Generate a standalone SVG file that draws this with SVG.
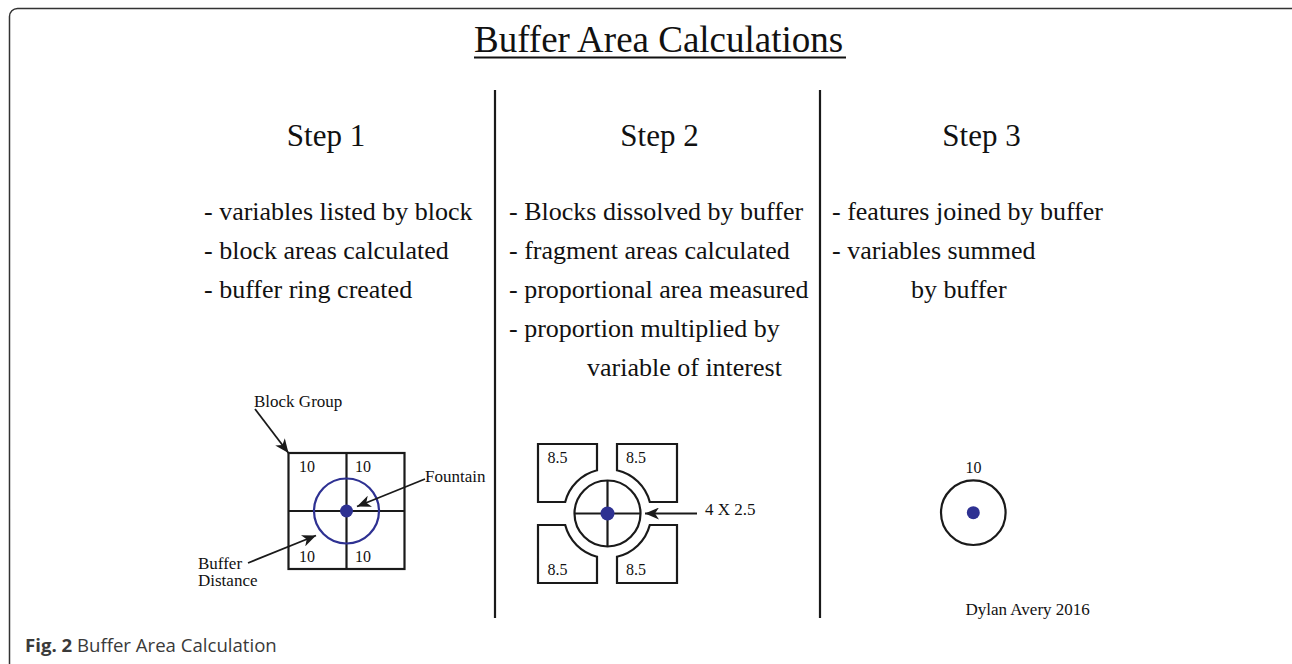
<svg xmlns="http://www.w3.org/2000/svg" width="1292" height="664" viewBox="0 0 1292 664">
  <style>
    .serif { font-family: "Liberation Serif", "Times New Roman", serif; fill: #111; }
    .title { font-size: 37px; }
    .head { font-size: 31px; text-anchor: middle; }
    .body { font-size: 26px; }
    .lbl { font-size: 17px; }
    .num { font-size: 16px; }
    .ink { fill: none; stroke: #1a1a1a; stroke-width: 2.2; }
    .ring { fill: none; stroke: #2e3192; stroke-width: 2.2; }
    .dot { fill: #2e3192; }
    .lead { fill: none; stroke: #1a1a1a; stroke-width: 1.8; }
    .rule { stroke: #1a1a1a; stroke-width: 2.2; }
    .caption { font-family: "Open Sans", "Noto Sans", sans-serif; font-size: 18.6px; fill: #3a3a3a; }
  </style>
  <defs>
    <marker id="arrow" markerUnits="userSpaceOnUse" markerWidth="16" markerHeight="12" refX="14" refY="6" orient="auto">
      <path d="M0,0 L14,6 L0,12 L4,6 Z" fill="#1a1a1a"/>
    </marker>
  </defs>

  <rect width="1292" height="664" fill="#fff"/>
  <!-- figure frame -->
  <rect x="9.5" y="8.5" width="1290" height="670" rx="8" fill="none" stroke="#333" stroke-width="1.5"/>

  <!-- title -->
  <g id="title">
    <text class="serif title" x="474" y="52">Buffer Area Calculations</text>
    <line x1="474" y1="57.5" x2="846" y2="57.5" stroke="#111" stroke-width="2"/>
  </g>

  <!-- column dividers -->
  <g id="dividers">
    <line class="rule" x1="495" y1="90" x2="495" y2="618"/>
    <line class="rule" x1="820" y1="90" x2="820" y2="618"/>
  </g>

  <!-- Step 1 -->
  <g id="step1">
    <text class="serif head" x="326" y="146">Step 1</text>
    <text class="serif body" x="204" y="220">- variables listed by block</text>
    <text class="serif body" x="204" y="259">- block areas calculated</text>
    <text class="serif body" x="204" y="298">- buffer ring created</text>
  </g>

  <g id="block-group">
    <rect class="ink" x="288.5" y="453" width="116" height="116"/>
    <line class="ink" x1="346.5" y1="453" x2="346.5" y2="569"/>
    <line class="ink" x1="288.5" y1="511" x2="404.5" y2="511"/>
    <circle class="ring" cx="346.5" cy="511" r="32.5"/>
    <circle class="dot" cx="346.5" cy="511" r="6.5"/>
    <text class="serif num" x="299" y="471.5">10</text>
    <text class="serif num" x="355" y="471.5">10</text>
    <text class="serif num" x="299" y="561.5">10</text>
    <text class="serif num" x="355" y="561.5">10</text>
  </g>
  <g id="label-block-group">
    <text class="serif lbl" x="254" y="407">Block Group</text>
  </g>
  <g id="label-fountain">
    <text class="serif lbl" x="425" y="482">Fountain</text>
  </g>
  <g id="label-buffer-distance">
    <text class="serif lbl" x="198" y="569">Buffer</text>
    <text class="serif lbl" x="198" y="586">Distance</text>
  </g>

  <!-- Step 2 -->
  <g id="step2">
    <text class="serif head" x="659.5" y="146">Step 2</text>
    <text class="serif body" x="509" y="220">- Blocks dissolved by buffer</text>
    <text class="serif body" x="509" y="259">- fragment areas calculated</text>
    <text class="serif body" x="509" y="298">- proportional area measured</text>
    <text class="serif body" x="509" y="337">- proportion multiplied by</text>
    <text class="serif body" x="587" y="376">variable of interest</text>
  </g>

  <g id="fragments">
    <path class="ink" d="M538,444 H597 V470.3 A44,44 0 0 0 565.2,502 H538 Z"/>
    <path class="ink" d="M677,444 H617 V470.3 A44,44 0 0 1 649.8,502 H677 Z"/>
    <path class="ink" d="M538,583 H597 V556.7 A44,44 0 0 1 565.2,525 H538 Z"/>
    <path class="ink" d="M677,583 H617 V556.7 A44,44 0 0 0 649.8,525 H677 Z"/>
    <circle class="ink" cx="607.5" cy="513.5" r="33"/>
    <line class="ink" x1="574.5" y1="513.5" x2="640.5" y2="513.5"/>
    <line class="ink" x1="607.5" y1="480.5" x2="607.5" y2="546.5"/>
    <circle class="dot" cx="607.5" cy="513.5" r="7"/>
    <text class="serif num" x="547.5" y="463">8.5</text>
    <text class="serif num" x="626" y="463">8.5</text>
    <text class="serif num" x="547.5" y="575">8.5</text>
    <text class="serif num" x="626" y="575">8.5</text>
  </g>
  <g id="label-ring">
    <text class="serif lbl" x="705" y="515">4 X 2.5</text>
  </g>

  <!-- Step 3 -->
  <g id="step3">
    <text class="serif head" x="981.5" y="146">Step 3</text>
    <text class="serif body" x="832" y="220">- features joined by buffer</text>
    <text class="serif body" x="832" y="259">- variables summed</text>
    <text class="serif body" x="911" y="298">by buffer</text>
  </g>

  <g id="joined-buffer">
    <circle class="ink" cx="973.3" cy="512.7" r="32.3"/>
    <circle class="dot" cx="973.3" cy="512.7" r="6.5"/>
    <text class="serif num" x="965.5" y="473">10</text>
  </g>

  <g id="credit">
    <text class="serif lbl" x="965.5" y="615">Dylan Avery 2016</text>
  </g>

  <!-- leader arrows -->
  <g id="connectors">
    <line class="lead" x1="255" y1="409" x2="288.5" y2="453" marker-end="url(#arrow)"/>
    <line class="lead" x1="425" y1="479" x2="357" y2="506.5" marker-end="url(#arrow)"/>
    <line class="lead" x1="248" y1="563" x2="316" y2="535.5" marker-end="url(#arrow)"/>
    <line class="lead" x1="697" y1="513.5" x2="645" y2="513.5" marker-end="url(#arrow)"/>
  </g>

  <!-- caption -->
  <g id="caption">
    <text class="caption" x="25" y="652"><tspan font-weight="bold">Fig. 2</tspan> Buffer Area Calculation</text>
  </g>
</svg>
